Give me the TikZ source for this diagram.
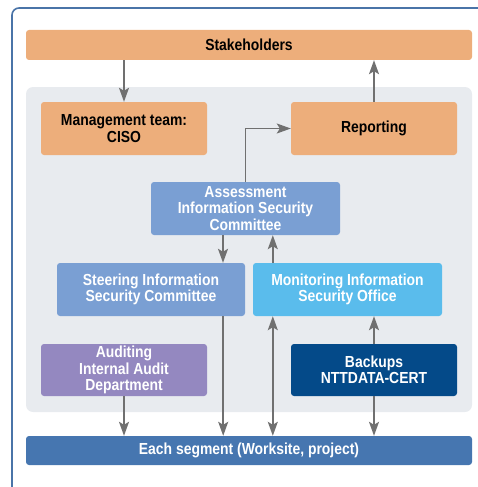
\documentclass[tikz,border=0pt]{standalone}
\usepackage{fontspec}
\newfontfamily\boxfont{Liberation Sans}[FakeStretch=0.87]
\usetikzlibrary{arrows.meta, calc}

\definecolor{orangebox}{RGB}{237,174,123}
\definecolor{steelbox}{RGB}{122,159,211}
\definecolor{skybox}{RGB}{90,188,236}
\definecolor{lilacbox}{RGB}{148,136,192}
\definecolor{navybox}{RGB}{4,74,137}
\definecolor{segbox}{RGB}{70,118,176}
\definecolor{panelgrey}{RGB}{232,235,239}
\definecolor{framecol}{RGB}{74,116,168}
\definecolor{arrowgrey}{RGB}{112,112,112}

\tikzset{
  box/.style={rounded corners=3pt, align=center, inner sep=0pt,
              font=\boxfont\bfseries\fontsize{16}{16.5}\selectfont},
  darkbox/.style={box, text=white},
  flow/.style={draw=arrowgrey, line width=1.5pt, -{Stealth[length=14pt,width=10pt,inset=3pt]}},
  twoway/.style={flow, {Stealth[length=14pt,width=10pt,inset=3pt]}-{Stealth[length=14pt,width=10pt,inset=3pt]}}
}

\begin{document}
\begin{tikzpicture}[x=1pt, y=-1pt]
            \useasboundingbox (0,0) rectangle (477,487);

            % outer frame, open at the bottom and right
            \draw[framecol, line width=1.6pt, rounded corners=7pt] (12,487) -- (12,8) -- (478,8);

            % grey panel behind the inner boxes
            \node[fill=panelgrey, rounded corners=7pt, minimum width=446pt, minimum height=325pt] (panel) at (249,249.5) {};

            \node[box, fill=orangebox, minimum width=446pt, minimum height=30pt] (stake) at (249,45) {Stakeholders};

            \node[box, fill=orangebox, minimum width=166pt, minimum height=53pt] (mgmt) at (124,128.5) {Management team:\\CISO};
            \node[box, fill=orangebox, minimum width=166pt, minimum height=53pt] (report) at (374,128.5) {Reporting};

            \node[darkbox, fill=steelbox, minimum width=189pt, minimum height=53pt] (assess) at (245.5,208.5) {Assessment\\Information Security\\Committee};

            \node[darkbox, fill=steelbox, minimum width=188pt, minimum height=53pt] (steer) at (151,289.5) {Steering Information\\Security Committee};
            \node[darkbox, fill=skybox, minimum width=189pt, minimum height=53pt] (monitor) at (347.5,289.5) {Monitoring Information\\Security Office};

            \node[darkbox, fill=lilacbox, minimum width=166pt, minimum height=52pt] (audit) at (124,370) {Auditing\\Internal Audit\\Department};
            \node[darkbox, fill=navybox, minimum width=166pt, minimum height=52pt] (backup) at (374,370) {Backups\\NTTDATA-CERT};

            \node[darkbox, fill=segbox, minimum width=446pt, minimum height=29pt] (each) at (249,450.5) {Each segment (Worksite, project)};

            % connectors
            \draw[flow] (stake.south -| mgmt.north) -- (mgmt.north);
            \draw[flow] (report.north) -- (report.north |- stake.south);
            \draw[flow] (assess.north) |- (report.west);

            \draw[flow] ([xshift=-22.5pt]assess.south) -- ([xshift=-22.5pt]assess.south |- steer.north);
            \draw[flow] ([xshift=20pt]monitor.north west) -- ([xshift=20pt]monitor.north west |- assess.south);

            \draw[flow] ([xshift=-22pt]steer.south east) -- ([xshift=-22pt]steer.south east |- each.north);
            \draw[twoway] ([xshift=20pt]monitor.south west) -- ([xshift=20pt]monitor.south west |- each.north);

            \draw[flow] (backup.north) -- (backup.north |- monitor.south);
            \draw[flow] (backup.south) -- (backup.south |- each.north);
            \draw[flow] (audit.south) -- (audit.south |- each.north);
\end{tikzpicture}
\end{document}
